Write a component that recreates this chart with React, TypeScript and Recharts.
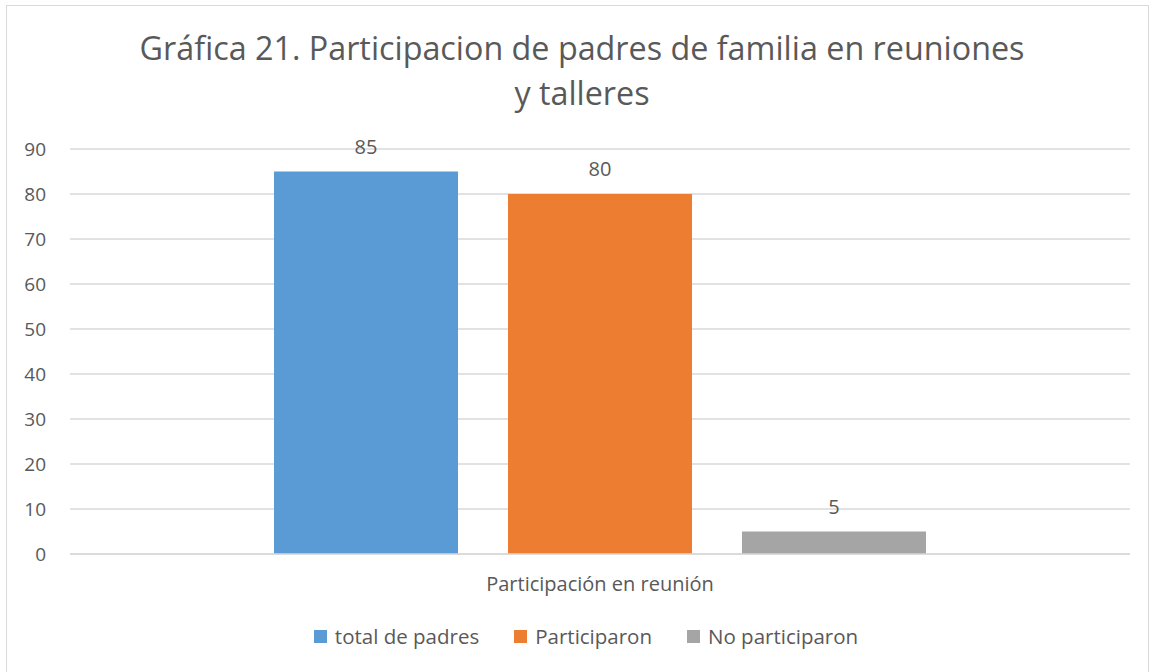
import { BarChart, Bar, XAxis, YAxis, CartesianGrid, LabelList } from 'recharts'

const categories = ['Participación en reunión']
const totalPadres = [85]
const participaron = [80]
const noParticiparon = [5]
const yTicks = [0, 10, 20, 30, 40, 50, 60, 70, 80, 90]

const seriesList = [
  { key: 'total', name: 'total de padres', color: '#5B9BD5', values: totalPadres },
  { key: 'part', name: 'Participaron', color: '#ED7D31', values: participaron },
  { key: 'nopart', name: 'No participaron', color: '#A5A5A5', values: noParticiparon },
]

const data = categories.map((c, i) => {
  const row: Record<string, string | number> = { cat: c }
  seriesList.forEach((s) => {
    row[s.key] = s.values[i]
  })
  return row
})

const textColor = '#595959'
const gridColor = '#D9D9D9'
const font = '"Open Sans", "Noto Sans", sans-serif'

function LegendBox() {
  return (
    <div style={{ display: 'flex', justifyContent: 'center', gap: 35, fontFamily: font, fontSize: 20.5, color: textColor }}>
      {seriesList.map((s) => (
        <div key={s.key} style={{ display: 'flex', alignItems: 'center' }}>
          <span style={{ display: 'inline-block', width: 13, height: 13, background: s.color, marginRight: 8 }} />
          <span>{s.name}</span>
        </div>
      ))}
    </div>
  )
}

export default function App() {
  return (
    <div style={{ position: 'absolute', left: 0, top: 0, width: 1152, height: 672, background: '#fff', fontFamily: font }}>
      <div
        style={{
          position: 'absolute',
          left: 6,
          top: 5,
          width: 1143,
          height: 670,
          border: `1.5px solid ${gridColor}`,
          boxSizing: 'border-box',
        }}
      />
      <div
        style={{
          position: 'absolute',
          left: 32,
          width: 1100,
          top: 25,
          textAlign: 'center',
          fontSize: 32.3,
          lineHeight: '45px',
          color: textColor,
        }}
      >
        Gráfica 21. Participacion de padres de familia en reuniones
        <br />y talleres
      </div>
      <div style={{ position: 'absolute', left: 0, top: 0 }}>
        <BarChart
          width={1152}
          height={672}
          data={data}
          margin={{ top: 149, right: 22, bottom: 88, left: 10 }}
          barSize={184}
          barGap={50}
        >
          <CartesianGrid vertical={false} stroke={gridColor} strokeWidth={1.5} />
          <XAxis
            dataKey="cat"
            height={30}
            axisLine={{ stroke: gridColor, strokeWidth: 1.5 }}
            tickLine={false}
            tickSize={0}
            tickMargin={23}
            tick={{ fill: textColor, fontSize: 20, fontFamily: font }}
          />
          <YAxis
            width={60}
            domain={[0, 90]}
            ticks={yTicks}
            axisLine={false}
            tickLine={false}
            tickSize={0}
            tickMargin={24}
            tick={{ fill: textColor, fontSize: 19, fontFamily: font }}
          />
          {seriesList.map((s) => (
            <Bar key={s.key} dataKey={s.key} name={s.name} fill={s.color} isAnimationActive={false}>
              <LabelList dataKey={s.key} position="top" offset={18} fill={textColor} fontSize={20} fontFamily={font} />
            </Bar>
          ))}
        </BarChart>
      </div>
      <div style={{ position: 'absolute', left: 10, top: 622, width: 1152 }}>
        <LegendBox />
      </div>
    </div>
  )
}
